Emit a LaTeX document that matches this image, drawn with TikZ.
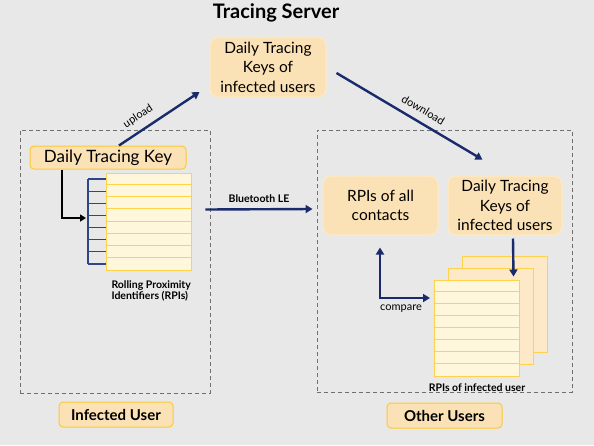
\documentclass[tikz,border=0pt]{standalone}
\usepackage{fontspec}
\setmainfont{Lato}
\usetikzlibrary{arrows.meta,calc}
\definecolor{bg}{HTML}{E8E8E8}
\definecolor{boxfill}{HTML}{FBE2B6}
\definecolor{boxline}{HTML}{FDEBC6}
\definecolor{gold}{HTML}{FFC933}
\definecolor{pagefill}{HTML}{FFF7DC}
\definecolor{pageline}{HTML}{FFD24D}
\definecolor{pagebackfill}{HTML}{FDE9C8}
\definecolor{navy}{HTML}{1A2B6D}
\definecolor{tickblue}{HTML}{2E4588}
\definecolor{dashgray}{HTML}{707070}
\tikzset{
  rbox/.style={draw=boxline, line width=1pt, fill=boxfill, rounded corners=8pt, align=center, inner sep=0pt,
    font=\fontsize{15.5}{19.5}\selectfont},
  goldbox/.style={draw=gold, line width=1pt, fill=boxfill, rounded corners=4pt, align=center, inner sep=0pt},
  dashbox/.style={draw=dashgray, line width=0.9pt, dash pattern=on 4pt off 3pt, inner sep=0pt},
  page/.style={draw=pageline, line width=1pt, fill=pagefill, minimum width=85pt, minimum height=96pt, inner sep=0pt},
  backpage/.style={draw=pageline, line width=1pt, fill=pagebackfill, minimum width=85pt, minimum height=96pt, inner sep=0pt},
  flow/.style={draw=navy, line width=2.4pt, -{Triangle[length=7pt,width=8pt]}},
  small/.style={font=\fontsize{11}{13}\selectfont},
  smallbold/.style={font=\bfseries\fontsize{10.5}{11.5}\selectfont},
}
\begin{document}
\begin{tikzpicture}[x=1pt,y=-1pt]
\fill[bg] (0,0) rectangle (594,445);
\useasboundingbox (0,0) rectangle (594,445);

% title
\node[font=\bfseries\fontsize{20}{24}\selectfont] (title) at (276,13) {Tracing Server};

% dashed regions
\node[dashbox, minimum width=190pt, minimum height=263pt] (leftreg) at (115,261.5) {};
\node[dashbox, minimum width=255pt, minimum height=262pt] (rightreg) at (444.5,261) {};

% server box
\node[rbox, minimum width=116pt, minimum height=60pt] (server) at (268,67) {Daily Tracing\\Keys of\\infected users};

% left side
\node[goldbox, minimum width=156pt, minimum height=23pt, font=\fontsize{17}{20}\selectfont] (dtk) at (108,157.5) {Daily Tracing Key};
\node[page, minimum height=97pt] (rpi) at (148.5,221.5) {};
\foreach \i in {1,...,7} {
  \draw[pageline, line width=1pt] ($(rpi.north west)+(0,\i*12.125)$) -- ($(rpi.north east)+(0,\i*12.125)$);
}
\coordinate (tktop) at (88,179);
\coordinate (tkbot) at (88,264);
\draw[tickblue, line width=1.2pt] (tktop) -- (tkbot);
\foreach \i in {0,...,7} {
  \draw[tickblue, line width=1.2pt] ($(tktop)+(0,\i*12.14)$) -- ($(tktop)+(18,\i*12.14)$);
}
\coordinate (bend) at (62,218);
\coordinate (bendend) at (86,218);
\draw[black, line width=2pt, -{Triangle[length=6pt,width=7pt]}] (dtk.south -| bend) -- (bend) -- (bendend);
\node[smallbold, align=left, anchor=north west] (rpilabel) at (108,277) {Rolling Proximity\\Identifiers (RPIs)};

% right side
\node[rbox, minimum width=115pt, minimum height=59pt] (contacts) at (380.5,205.5) {RPIs of all\\contacts};
\node[rbox, minimum width=114pt, minimum height=59pt] (dtkr) at (505,205.5) {Daily Tracing\\Keys of\\infected users};
\node[backpage] (pback) at (505,304) {};
\node[backpage] (pmid) at (490.5,316) {};
\node[page] (pfront) at (476.5,328) {};
\foreach \i in {1,...,7} {
  \draw[pageline, line width=1pt] ($(pfront.north west)+(0,\i*12)$) -- ($(pfront.north east)+(0,\i*12)$);
}
\node[smallbold] (infrpi) at (477,388) {RPIs of infected user};

% arrows
\draw[flow] ($(dtk.north)+(11,0)$) -- node[small, sloped, above=4pt, pos=0.33] (uplbl) {upload} ($(server.west)+(-10,25)$);
\draw[flow] ($(server.east)+(10,6)$) -- node[small, sloped, above=4pt, pos=0.55] (dnlbl) {download} ($(rightreg.north east)+(-90,30)$);
\draw[flow] ($(leftreg.east)+(-5,-52)$) -- node[smallbold, above=2pt] (btlbl) {Bluetooth LE} ($(rightreg.west)+(-4,-52)$);
\draw[flow] ($(dtkr.south)+(8,3)$) -- ($(pfront.north east)+(-6,-3)$);
\coordinate (cmp) at (380,298);
\coordinate (cmpend) at (430,298);
\draw[draw=navy, line width=2.4pt, {Triangle[length=7pt,width=8pt]}-{Triangle[length=7pt,width=8pt]}] ($(contacts.south)+(-0.5,12)$) -- (cmp) -- (cmpend);
\node[small] (cmplbl) at (401,309) {compare};

% bottom labels
\node[goldbox, minimum width=114pt, minimum height=25pt, font=\bfseries\fontsize{15}{17}\selectfont] (infuser) at (116,414.5) {Infected User};
\node[goldbox, minimum width=115pt, minimum height=25pt, font=\bfseries\fontsize{15}{17}\selectfont] (othuser) at (444.5,415.5) {Other Users};
\end{tikzpicture}
\end{document}
